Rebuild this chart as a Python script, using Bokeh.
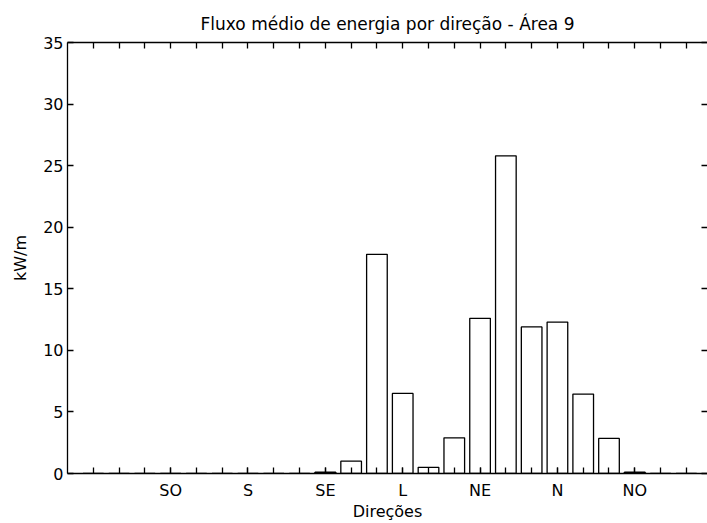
from bokeh.plotting import figure
from bokeh.models import FixedTicker, LinearAxis, Range1d, ColumnDataSource
from bokeh.embed import file_html
from bokeh.resources import INLINE

# ---- data ----
positions = list(range(1, 25))
values = [0, 0, 0, 0, 0, 0, 0, 0, 0, 0.1, 1.0, 17.8, 6.5, 0.5, 2.9, 12.6,
          25.8, 11.9, 12.3, 6.45, 2.85, 0.1, 0, 0]
label_positions = [4, 7, 10, 13, 16, 19, 22]
tick_labels = ["SO", "S", "SE", "L", "NE", "N", "NO"]
y_ticks = [0, 5, 10, 15, 20, 25, 30, 35]

FONT = "DejaVu Sans"
FS = "16px"

p = figure(width=707, height=523, output_backend="svg", toolbar_location=None,
           x_range=Range1d(0, 24.82), y_range=Range1d(0, 35),
           min_border_left=67, min_border_right=0, min_border_top=42,
           min_border_bottom=50, x_axis_location=None, y_axis_location=None)
p.title.text = "Fluxo médio de energia por direção - Área 9"
p.title.align = "center"
p.title.text_font = FONT
p.title.text_font_size = "17px"
p.title.text_font_style = "normal"
p.title.text_color = "black"
p.title.standoff = 17
p.outline_line_color = None
p.grid.visible = False
p.background_fill_color = "white"
p.border_fill_color = "white"

src = ColumnDataSource(dict(x=positions, top=values))
p.vbar(x="x", top="top", width=0.8, bottom=0, source=src,
       fill_color="white", line_color="black", line_width=1.3)

def style(ax):
    ax.major_tick_in = 6
    ax.major_tick_out = 0
    ax.minor_tick_in = 6
    ax.minor_tick_out = 0
    ax.axis_line_color = "black"
    ax.major_tick_line_color = "black"
    ax.minor_tick_line_color = "black"
    ax.axis_line_width = 1.3
    ax.major_tick_line_width = 1.3
    ax.minor_tick_line_width = 1.3
    ax.major_label_text_font = FONT
    ax.major_label_text_font_size = FS
    ax.major_label_text_color = "black"
    ax.major_label_text_line_height = 1.0
    ax.axis_label_text_font = FONT
    ax.axis_label_text_font_size = FS
    ax.axis_label_text_font_style = "normal"
    ax.axis_label_text_color = "black"
    ax.axis_label_text_line_height = 1.0

xb = LinearAxis(ticker=FixedTicker(ticks=label_positions, minor_ticks=positions),
                axis_label="Direções")
style(xb)
xb.major_label_overrides = dict(zip(label_positions, tick_labels))
xb.major_label_standoff = 7
xb.axis_label_standoff = -1
p.add_layout(xb, "below")

xt = LinearAxis(ticker=FixedTicker(ticks=[], minor_ticks=positions))
style(xt)
xt.major_label_standoff = 0
p.add_layout(xt, "above")

yl = LinearAxis(ticker=FixedTicker(ticks=y_ticks), axis_label="kW/m")
style(yl)
yl.major_label_standoff = 4
yl.axis_label_standoff = 10
p.add_layout(yl, "left")

yr = LinearAxis(ticker=FixedTicker(ticks=[], minor_ticks=y_ticks))
style(yr)
yr.axis_line_color = None
yr.major_label_standoff = 0
p.add_layout(yr, "right")

open("out.html", "w").write(file_html(p, INLINE))
